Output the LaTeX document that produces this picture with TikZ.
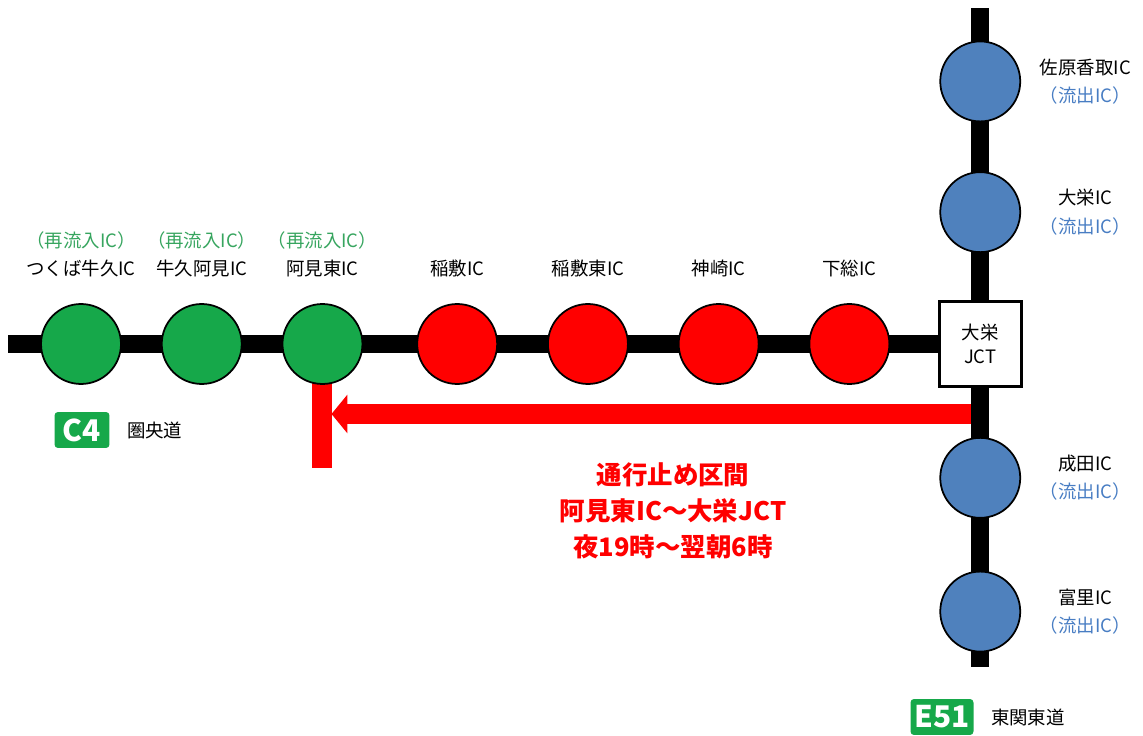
\documentclass[tikz,border=0pt]{standalone}
\usepackage{fontspec}
\setmainfont{Noto Sans CJK JP}
\usetikzlibrary{positioning,arrows.meta,backgrounds}
\definecolor{icgreen}{RGB}{22,168,74}
\definecolor{icred}{RGB}{255,0,0}
\definecolor{icblue}{RGB}{79,129,189}
\definecolor{txtgreen}{RGB}{55,165,95}
\definecolor{txtblue}{RGB}{72,125,195}
\tikzset{ic/.style = {draw, circle, line width=1pt, minimum size=1.6cm, inner sep=0pt}}
\tikzset{reentry/.style = {ic, fill=icgreen}}
\tikzset{closed/.style = {ic, fill=icred}}
\tikzset{exitonly/.style = {ic, fill=icblue}}
\tikzset{toplabel/.style = {align=center, inner sep=0pt, label distance=0.52cm}}
\tikzset{sidelabel/.style = {align=center, inner sep=0pt, text width=2cm, label distance=0.28cm}}
\tikzset{jctbox/.style = {draw, line width=1.7pt, fill=white, minimum width=1.64cm, minimum height=1.7cm, align=center, font=\fontsize{10.5}{13.5}\selectfont}}
\tikzset{road/.style = {line width=0.36cm}}
\tikzset{closure/.style = {icred, line width=0.4cm}}
\tikzset{badge/.style = {fill=icgreen, rounded corners=2pt, text=white, inner sep=0pt, minimum height=0.72cm, font=\fontsize{17}{17}\selectfont\bfseries}}

\begin{document}
\begin{tikzpicture}[x=0.02cm, y=-0.02cm, font=\fontsize{10.5}{16}\selectfont]
  \useasboundingbox (0,0) rectangle (1143,736);

  % C4
  \node [reentry, label={[toplabel]above:{\textcolor{txtgreen}{（再流入IC）}\\つくば牛久IC}}] (tsukuba) at (81,344) {};
  \node [reentry, right=0.78cm of tsukuba, label={[toplabel]above:{\textcolor{txtgreen}{（再流入IC）}\\牛久阿見IC}}] (ushiku) {};
  \node [reentry, right=0.78cm of ushiku, label={[toplabel]above:{\textcolor{txtgreen}{（再流入IC）}\\阿見東IC}}] (amihigashi) {};
  \node [closed, right=1.06cm of amihigashi, label={[toplabel]above:稲敷IC}] (inashiki) {};
  \node [closed, right=0.98cm of inashiki, label={[toplabel]above:稲敷東IC}] (inashikihigashi) {};
  \node [closed, right=0.98cm of inashikihigashi, label={[toplabel]above:神崎IC}] (kozaki) {};
  \node [closed, right=0.98cm of kozaki, label={[toplabel]above:下総IC}] (shimofusa) {};
  \node [jctbox, right=0.95cm of shimofusa] (jct) {大栄\\JCT};

  % E51
  \node [exitonly, above=0.94cm of jct, label={[sidelabel]right:{大栄IC\\\textcolor{txtblue}{（流出IC）}}}] (taiei) {};
  \node [exitonly, above=0.98cm of taiei, label={[sidelabel]right:{佐原香取IC\\\textcolor{txtblue}{（流出IC）}}}] (sawara) {};
  \node [exitonly, below=0.98cm of jct, label={[sidelabel]right:{成田IC\\\textcolor{txtblue}{（流出IC）}}}] (narita) {};
  \node [exitonly, below=1.04cm of narita, label={[sidelabel]right:{富里IC\\\textcolor{txtblue}{（流出IC）}}}] (tomisato) {};

  \coordinate (west) at (8,344);
  \coordinate (north) at ([yshift=6.72cm]jct.center);
  \coordinate (south) at ([yshift=-6.46cm]jct.center);
  \coordinate (stopend) at ([yshift=-2.48cm]amihigashi.center);
  \coordinate (entry) at ([xshift=-0.18cm, yshift=-1.4cm]jct.center);
  \coordinate (tip) at ([xshift=0.18cm, yshift=-1.4cm]amihigashi.center);

  \begin{pgfonlayer}{background}
    \draw [road] (west) -- (jct);
    \draw [road] (north) -- (south);
    \draw [closure] (amihigashi.center) -- (stopend);
  \end{pgfonlayer}

  \draw [closure, -{Triangle[length=0.32cm, width=0.76cm]}] (entry) -- (tip);

  \node [icred, align=center, font=\fontsize{14.5}{20.5}\selectfont\bfseries] (notice) at (673,511)
    {通行止め区間\\阿見東IC～大栄JCT\\夜19時～翌朝6時};

  \node [badge, minimum width=1.1cm] (c4) at (82,430) {C4};
  \node [right=0.22cm of c4] (c4name) {圏央道};
  \node [badge, minimum width=1.26cm] (e51) at (942,717) {E51};
  \node [right=0.22cm of e51] (e51name) {東関東道};
\end{tikzpicture}
\end{document}
